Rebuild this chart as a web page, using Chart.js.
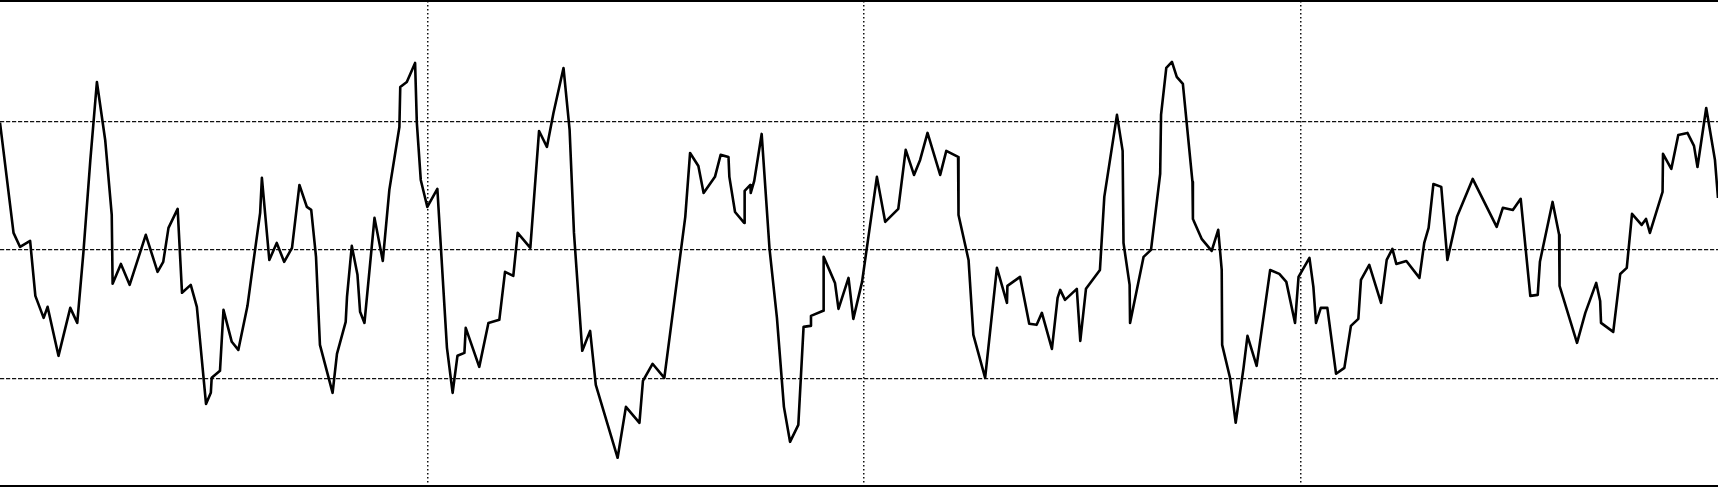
<!DOCTYPE html>
<html>
<head>
<meta charset="utf-8">
<script src="https://cdn.jsdelivr.net/npm/chart.js@4/dist/chart.umd.min.js"></script>
<style>
  html, body { margin: 0; padding: 0; background: #fff; overflow: hidden; }
  #wrap { width: 1718px; height: 489px; position: relative; }
</style>
</head>
<body>
<div id="wrap"><canvas id="chart"></canvas></div>
<script>
// readings of the oscillator, split by the dotted period lines (x, value)
const period1 = [
  [2.1, 99.0], [5.2, 13.2], [6.7, 2.3], [9.0, 7.0], [10.2, -35.8], [12.1, -52.9], [13.0, -44.3],
  [15.5, -82.4], [18.2, -45.1], [19.8, -56.8], [21.2, -2.3], [22.8, 70.0], [24.3, 130.6], [26.2, 85.5],
  [27.7, 27.2], [27.9, -26.4], [29.8, -10.9], [31.8, -27.2], [35.5, 11.7], [38.2, -17.1], [39.5, -9.3],
  [40.7, 17.1], [42.8, 31.9], [43.8, -33.4], [45.8, -27.2], [47.2, -44.3], [49.3, -119.8], [50.4, -111.2],
  [50.6, -99.5], [52.5, -94.1], [53.3, -46.7], [55.2, -71.5], [56.7, -77.8], [58.8, -43.5], [60.0, -13.2],
  [61.7, 28.8], [62.1, 56.0], [63.8, -7.8], [65.5, 5.4], [67.2, -9.3], [69.0, 1.6], [70.7, 50.5],
  [72.4, 33.4], [73.4, 31.1], [74.5, -5.4], [75.4, -73.9], [78.3, -111.2], [79.3, -80.9], [81.3, -56.0],
  [81.6, -36.5], [82.7, 3.1], [84.0, -19.4], [84.6, -48.2], [85.6, -56.8], [87.9, 24.9], [89.8, -8.6],
  [91.3, 46.7], [93.6, 95.6], [93.8, 126.7], [95.3, 130.6], [97.2, 145.4], [97.6, 98.8], [98.5, 54.4]
];
const period2 = [
  [100.0, 33.4], [102.3, 47.4], [104.5, -76.2], [105.8, -111.2], [106.9, -82.4], [108.5, -80.1],
  [108.8, -60.7], [111.9, -91.0], [114.0, -56.8], [116.5, -54.4], [117.8, -17.1], [119.7, -20.2],
  [120.7, 13.2], [123.6, 1.6], [125.6, 92.5], [127.4, 80.1], [128.9, 106.5], [131.2, 141.5], [132.6, 93.3],
  [133.6, 13.2], [135.5, -78.5], [137.3, -63.0], [138.6, -105.0], [143.6, -161.7], [145.5, -122.1],
  [148.6, -134.5], [149.4, -101.9], [151.6, -88.6], [154.3, -99.5], [159.1, 25.7], [160.2, 75.4],
  [162.1, 65.3], [163.3, 44.3], [165.9, 56.8], [167.2, 73.9], [169.0, 72.3], [169.2, 56.8], [170.5, 29.5],
  [172.6, 21.0], [172.7, 45.9], [174.0, 50.5], [174.1, 44.3], [174.9, 53.7], [176.6, 90.2], [178.4, 0.8],
  [180.1, -52.9], [181.7, -122.1], [183.1, -149.3], [185.0, -136.1], [186.2, -59.9], [187.7, -59.1],
  [187.9, -51.3], [190.7, -47.4], [190.8, -5.4], [192.3, -17.1], [193.4, -25.7], [194.2, -45.9],
  [196.5, -21.8], [197.6, -53.7], [199.6, -24.9]
];
const period3 = [
  [203.0, 56.8], [204.9, 21.8], [207.9, 31.9], [209.6, 77.8], [211.5, 58.3], [212.9, 70.0], [214.6, 91.0],
  [217.5, 58.3], [218.9, 77.0], [221.6, 72.3], [221.7, 27.2], [224.0, -7.8], [225.1, -66.1], [227.8, -99.5],
  [230.5, -14.0], [232.8, -41.2], [232.9, -28.0], [235.8, -21.0], [237.9, -57.5], [239.6, -58.3],
  [240.8, -49.0], [243.1, -77.0], [244.4, -37.3], [245.0, -31.1], [246.1, -38.9], [248.8, -30.3],
  [249.6, -70.8], [250.9, -30.3], [254.1, -15.6], [255.1, 41.2], [258.0, 105.0], [259.3, 77.0],
  [259.5, 5.4], [260.9, -27.2], [261.0, -56.8], [264.1, -5.4], [265.8, 0], [267.9, 59.1], [268.1, 105.0],
  [269.3, 141.5], [270.6, 146.2], [271.7, 134.5], [273.1, 129.1], [275.3, 52.9], [275.4, 24.1],
  [277.4, 8.6], [279.7, -0.8], [281.2, 15.6], [282.0, -15.6], [282.1, -73.9], [283.9, -99.5],
  [285.2, -134.5], [287.0, -91.8], [287.9, -66.9], [290.0, -90.2], [293.1, -15.6], [295.2, -18.7],
  [296.8, -24.9], [298.8, -56.8], [299.6, -21.0]
];
const period4 = [
  [302.1, -6.2], [303.0, -28.8], [303.6, -56.8], [304.7, -45.1], [306.2, -45.1], [308.2, -96.4],
  [310.1, -91.8], [311.6, -59.1], [313.3, -53.7], [313.9, -23.3], [315.8, -11.7], [318.5, -41.2],
  [319.8, -7.8], [321.1, 0.8], [322.0, -10.9], [324.3, -8.6], [327.3, -21.8], [328.4, 5.4], [329.4, 17.1],
  [330.5, 51.3], [332.3, 49.0], [333.7, -7.8], [335.9, 25.7], [339.5, 55.2], [345.0, 17.9], [346.4, 32.7],
  [348.7, 31.1], [350.5, 39.7], [352.7, -35.8], [354.4, -35.0], [354.9, -9.3], [357.8, 37.3],
  [359.3, 11.7], [359.4, -28.0], [363.4, -72.3], [365.3, -49.0], [367.8, -25.7], [368.7, -39.7],
  [368.9, -56.8], [371.7, -63.8], [373.3, -18.7], [374.8, -14.0], [376.0, 28.0], [378.2, 19.4],
  [379.2, 24.1], [380.1, 13.2], [383.0, 45.1], [383.1, 74.7], [385.0, 63.0], [386.6, 89.4],
  [388.7, 91.0], [390.2, 80.9], [391.0, 64.5], [393.0, 110.4], [395.0, 70.0], [395.7, 40.4]
];

const xTicks = [100, 200, 300];
const yTicks = [-100, 0, 100];
const xRange = [2.1, 395.7];
const yRange = [-183.9, 193.6];

const points = [...period1, ...period2, ...period3, ...period4].map(p => ({ x: p[0], y: p[1] }));

const ctx = document.getElementById('chart').getContext('2d');
new Chart(ctx, {
    type: 'line',
    data: {
        datasets: [{
            data: points,
            xAxisID: 'x',
            yAxisID: 'y',
            borderColor: '#000',
            borderWidth: 2.6,
            borderJoinStyle: 'round',
            pointRadius: 0,
            tension: 0,
            fill: false
        }]
    },
    options: {
        responsive: true,
        maintainAspectRatio: false,
        animation: false,
        layout: { padding: { top: 1, bottom: 2.7, left: 0, right: 0 }, autoPadding: false },
        plugins: { legend: { display: false }, tooltip: { enabled: false } },
        scales: {
            x: {
                type: 'linear',
                min: xRange[0],
                max: xRange[1],
                afterBuildTicks: s => { s.ticks = xTicks.map(v => ({ value: v })); },
                ticks: { display: false },
                grid: { color: '#111', lineWidth: 1.5, drawTicks: false },
                border: { display: true, color: '#000', width: 2, dash: [1.6, 2.4] }
            },
            xTop: {
                type: 'linear',
                position: 'top',
                min: xRange[0],
                max: xRange[1],
                ticks: { display: false },
                grid: { display: false, drawTicks: false },
                border: { display: true, color: '#000', width: 2 }
            },
            y: {
                type: 'linear',
                min: yRange[0],
                max: yRange[1],
                afterBuildTicks: s => { s.ticks = yTicks.map(v => ({ value: v })); },
                ticks: { display: false },
                grid: { color: '#111', lineWidth: 1.3, drawTicks: false },
                border: { display: false, dash: [4.2, 1.8] }
            }
        }
    }
});
</script>
</body>
</html>
